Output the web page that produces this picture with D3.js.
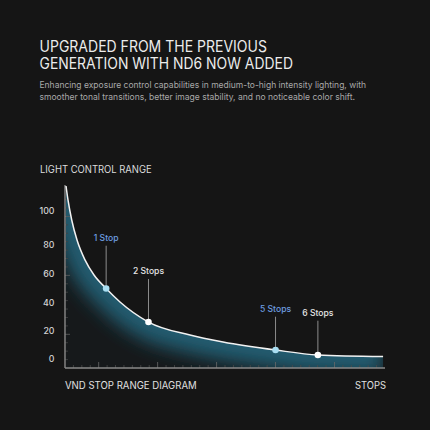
<!DOCTYPE html>
<html><head><meta charset="utf-8">
<script src="https://cdn.jsdelivr.net/npm/d3@7/dist/d3.min.js"></script>
<style>
html,body{margin:0;padding:0;background:#151515;}
svg{display:block;}
text{font-family:Inter,"Noto Sans",sans-serif;}
</style></head>
<body><svg id="c" width="430" height="430"></svg>
<script>
// ---- data ----
const titleLines = ["UPGRADED FROM THE PREVIOUS", "GENERATION WITH ND6 NOW ADDED"];
const subtitleLines = ["Enhancing exposure control capabilities in medium-to-high intensity lighting, with",
  "smoother tonal transitions, better image stability, and no noticeable color shift."];
const yAxisTitle = "LIGHT CONTROL RANGE";
const xAxisTitle = "VND STOP RANGE DIAGRAM";
const xUnit = "STOPS";
const yTickValues = [0, 20, 40, 60, 80, 100];
// curve (stops -> relative light)
const curveStops  = [0.052, 0.099, 0.187, 0.312, 0.5, 0.713, 1, 1.327, 2, 2.98, 3.76, 5, 6, 7.54];
const curveValues = [114.7, 106.5, 94.7, 82.9, 69.7, 59.3, 50, 40.7, 26.4, 17.1, 12.1, 6.4, 2.9, 1.8];
// marked stops
const markerLabels = ["1 Stop", "2 Stops", "5 Stops", "6 Stops"];
const markerStops  = [1, 2, 5, 6];
const markerValues = [50, 26.4, 6.4, 2.9];
const markerHighlight = [true, false, true, false];

// ---- layout ----
const svg = d3.select("#c");
const x = d3.scaleLinear().domain([0, 7.5]).range([63.8, 381.4]);
const y = d3.scaleLinear().domain([0, 20, 40, 60, 80, 100, 120]).range([359, 331, 303, 274, 245, 211, 177]);
const axisX0 = 65, axisX1 = 385, axisY0 = 368, axisYTop = 185;

// titles
const titleLen = [227.5, 253.5];
svg.append("g").selectAll("text").data(titleLines).join("text")
  .attr("x", 39.5).attr("y", (d, i) => 51.7 + i * 17.6)
  .attr("fill", "#ececec").attr("font-size", 15.2).attr("font-weight", 400)
  .attr("textLength", (d, i) => titleLen[i]).attr("lengthAdjust", "spacingAndGlyphs")
  .text(d => d);
const subLen = [326.5, 315.5];
svg.append("g").selectAll("text").data(subtitleLines).join("text")
  .attr("x", 39.5).attr("y", (d, i) => 88.3 + i * 11.8)
  .attr("fill", "#a9a9a9").attr("font-size", 8.9)
  .attr("textLength", (d, i) => subLen[i]).attr("lengthAdjust", "spacingAndGlyphs")
  .text(d => d);
svg.append("text").attr("x", 40).attr("y", 172.7).attr("fill", "#dcdcdc")
  .attr("font-size", 9.8).attr("textLength", 111.7).attr("lengthAdjust", "spacingAndGlyphs").text(yAxisTitle);

// defs
const defs = svg.append("defs");
const pts = curveStops.map((s, i) => [s, curveValues[i]]);
const areaGen = d3.area().x(d => x(d[0])).y0(axisY0).y1(d => y(d[1])).curve(d3.curveMonotoneX);
const lineGen = d3.line().x(d => x(d[0])).y(d => y(d[1])).curve(d3.curveMonotoneX);
defs.append("clipPath").attr("id", "under").append("path").attr("d", areaGen(pts));
const f = defs.append("filter").attr("id", "blur").attr("x", "-50%").attr("y", "-50%").attr("width", "200%").attr("height", "200%");
f.append("feGaussianBlur").attr("stdDeviation", 9);

// glow under curve
const g = svg.append("g").attr("clip-path", "url(#under)");
g.append("path").attr("d", areaGen(pts)).attr("fill", "#16191b");
g.append("path").attr("d", lineGen(pts)).attr("fill", "none")
  .attr("stroke", "#225c6f").attr("stroke-width", 36).attr("filter", "url(#blur)");

// ruler ticks
const ruler = d3.scaleLinear().domain([0, 38]).range([axisX0, axisX1]);
svg.append("g").selectAll("line").data(d3.range(1, 38)).join("line")
  .attr("x1", d => ruler(d)).attr("x2", d => ruler(d))
  .attr("y1", axisY0).attr("y2", d => d % 7 === 4 ? axisY0 - 6 : axisY0 - 3)
  .attr("stroke", d => d % 7 === 4 ? "#6a6a6a" : "#4a4a4a").attr("stroke-width", 0.8);
const step = (axisX1 - axisX0) / 38;
svg.append("g").selectAll("line").data(d3.range(1, 21)).join("line")
  .attr("x1", axisX0).attr("x2", d => d % 7 === 4 ? axisX0 + 5 : axisX0 + 3)
  .attr("y1", d => axisY0 - d * step).attr("y2", d => axisY0 - d * step)
  .attr("stroke", d => d % 7 === 4 ? "#5e5e5e" : "#444").attr("stroke-width", 0.8);

// axes lines
svg.append("line").attr("x1", axisX0).attr("x2", axisX0).attr("y1", axisYTop).attr("y2", axisY0)
  .attr("stroke", "#8a8a8a").attr("stroke-width", 1.4);
svg.append("line").attr("x1", axisX0).attr("x2", axisX1).attr("y1", axisY0).attr("y2", axisY0)
  .attr("stroke", "#8a8a8a").attr("stroke-width", 1.4);

// y labels
svg.append("g").selectAll("text").data(yTickValues).join("text")
  .attr("x", 54.5).attr("y", d => y(d)).attr("dy", "0.35em").attr("text-anchor", "end")
  .attr("fill", "#d2d2d2").attr("font-size", 8.8).attr("font-weight", 500).text(d => d);

// curve
svg.append("path").attr("d", lineGen(pts)).attr("fill", "none")
  .attr("stroke", "#f2f2f2").attr("stroke-width", 1.5);

// markers
const labelY = [240.7, 274, 311.7, 315.7];
const mk = svg.append("g").selectAll("g").data(markerLabels).join("g");
mk.append("line")
  .attr("x1", (d, i) => x(markerStops[i])).attr("x2", (d, i) => x(markerStops[i]))
  .attr("y1", (d, i) => labelY[i] + 5).attr("y2", (d, i) => y(markerValues[i]))
  .attr("stroke", "#8c8c8c").attr("stroke-width", 1);
mk.append("circle")
  .attr("cx", (d, i) => x(markerStops[i])).attr("cy", (d, i) => y(markerValues[i])).attr("r", 3.3)
  .attr("fill", (d, i) => markerHighlight[i] ? "#a9def2" : "#ffffff");
mk.append("text")
  .attr("x", (d, i) => x(markerStops[i])).attr("y", (d, i) => labelY[i])
  .attr("text-anchor", "middle").attr("font-size", 8.6).attr("font-weight", 500)
  .attr("fill", (d, i) => markerHighlight[i] ? "#6d9de0" : "#e6e6e6")
  .text(d => d);

// bottom labels
svg.append("text").attr("x", 65).attr("y", 389).attr("fill", "#e0e0e0").attr("font-size", 10.2)
  .attr("textLength", 131.7).attr("lengthAdjust", "spacingAndGlyphs").text(xAxisTitle);
svg.append("text").attr("x", 386).attr("y", 389).attr("text-anchor", "end").attr("fill", "#e0e0e0").attr("font-size", 10.2)
  .attr("textLength", 31).attr("lengthAdjust", "spacingAndGlyphs").text(xUnit);
</script></body></html>
